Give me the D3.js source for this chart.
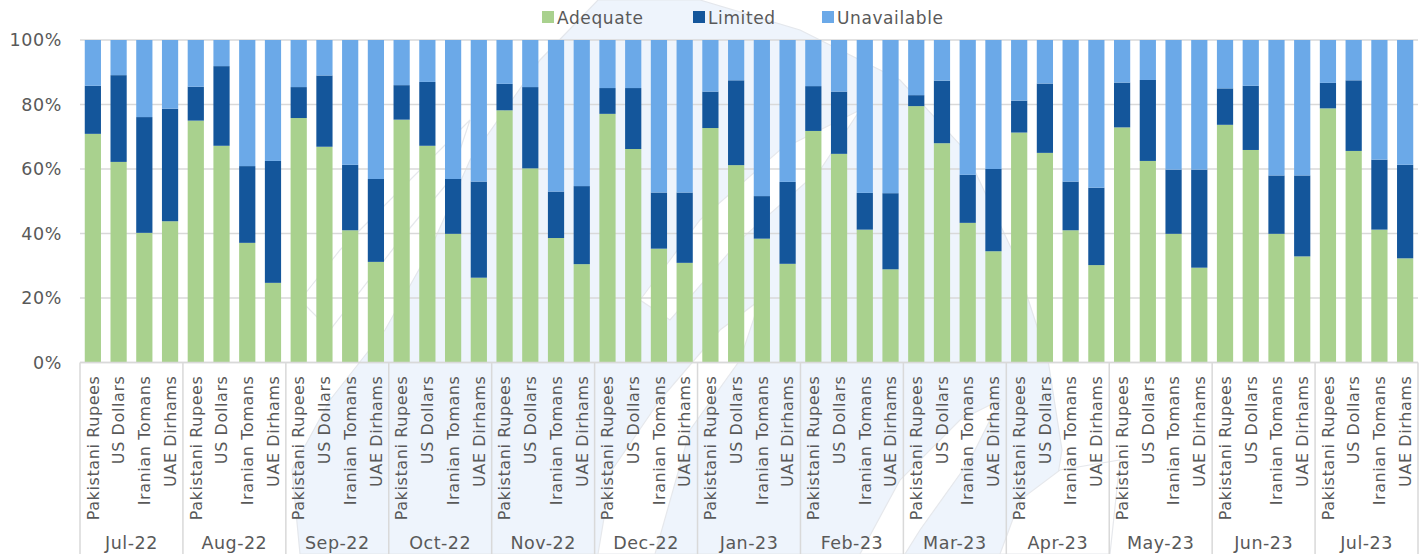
<!DOCTYPE html>
<html>
<head>
<meta charset="utf-8">
<script src="https://cdn.jsdelivr.net/npm/d3@7"></script>
<style>
  html, body { margin: 0; padding: 0; background: #fff; }
  svg { display: block; }
  text { font-family: "DejaVu Sans", sans-serif; fill: #595959; }
</style>
</head>
<body>
<svg id="chart" width="1428" height="554"></svg>
<script>
// Months on the outer axis, currencies on the inner axis
const months = ["Jul-22", "Aug-22", "Sep-22", "Oct-22", "Nov-22", "Dec-22", "Jan-23",
                "Feb-23", "Mar-23", "Apr-23", "May-23", "Jun-23", "Jul-23"];
const currencies = ["Pakistani Rupees", "US Dollars", "Iranian Tomans", "UAE Dirhams"];

// Share of responses (%) per month x currency, in the order above
const adequate = [
  70.9, 62.2, 40.2, 43.8,  75.0, 67.2, 37.1, 24.7,  75.8, 66.9, 41.0, 31.2,
  75.3, 67.2, 39.9, 26.3,  78.2, 60.2, 38.6, 30.5,  77.1, 66.2, 35.3, 30.9,
  72.7, 61.2, 38.4, 30.6,  71.8, 64.7, 41.2, 28.9,  79.5, 68.0, 43.3, 34.5,
  71.3, 65.0, 41.0, 30.2,  72.9, 62.5, 39.9, 29.4,  73.7, 65.9, 39.9, 32.9,
  78.8, 65.6, 41.2, 32.3
];
const limited = [
  14.9, 26.9, 35.9, 34.9,  10.5, 24.7, 23.8, 37.8,   9.6, 22.1, 20.3, 25.7,
  10.7, 19.8, 17.0, 29.8,   8.2, 25.2, 14.4, 24.2,   8.0, 18.9, 17.4, 21.8,
  11.3, 26.3, 13.2, 25.4,  13.9, 19.3, 11.4, 23.6,   3.4, 19.4, 14.9, 25.5,
   9.9, 21.5, 15.1, 24.0,  13.9, 25.1, 19.9, 30.4,  11.3, 19.9, 18.1, 25.1,
   7.9, 21.9, 21.7, 29.0
];
const unavailable = [
  14.2, 10.9, 23.9, 21.3,  14.5,  8.1, 39.1, 37.5,  14.6, 11.0, 38.7, 43.1,
  14.0, 13.0, 43.1, 43.9,  13.6, 14.6, 47.0, 45.3,  14.9, 14.9, 47.3, 47.3,
  16.0, 12.5, 48.4, 44.0,  14.3, 16.0, 47.4, 47.5,  17.1, 12.6, 41.8, 40.0,
  18.8, 13.5, 43.9, 45.8,  13.2, 12.4, 40.2, 40.2,  15.0, 14.2, 42.0, 42.0,
  13.3, 12.5, 37.1, 38.7
];
const yTicks = [0, 20, 40, 60, 80, 100];

const seriesNames = ["Adequate", "Limited", "Unavailable"];
const seriesColors = ["#A9D18E", "#14569B", "#6BA9E8"];

// Build one row per bar
const rows = [];
months.forEach((m, mi) => {
  currencies.forEach((c, ci) => {
    const i = mi * currencies.length + ci;
    rows.push({ key: m + "|" + c, month: m, currency: c,
                Adequate: adequate[i], Limited: limited[i], Unavailable: unavailable[i] });
  });
});

const svg = d3.select("#chart");
const W = 1428, H = 554;
const plotLeft = 80, plotRight = 1418, plotTop = 40, plotBottom = 362.5;

const x = d3.scaleBand(rows.map(d => d.key), [plotLeft, plotRight])
  .paddingInner(0.37).paddingOuter(0.185);
const xMonth = d3.scaleBand(months, [plotLeft, plotRight]);
const y = d3.scaleLinear([0, 100], [plotBottom, plotTop]);
const color = d3.scaleOrdinal(seriesNames, seriesColors);

// Faint background logo
const wm = svg.append("g");
wm.append("path")
  .attr("fill", "#EEF4FC").attr("stroke", "#E4E7EC").attr("stroke-width", 1.2)
  .attr("d", "M300,554 L292,470 L330,400 L385,330 L430,250 L470,160 L540,60 L598,0 " +
             "L700,0 L800,30 L900,80 L965,150 L1012,250 L1048,360 L1062,450 L1045,554 Z");
// lighter streaks cutting through it
const streak = wm.append("g").attr("fill", "#FFFFFF").attr("stroke", "#E6E8EC").attr("stroke-width", 1.2);
streak.append("path").attr("d", "M598,554 L612,470 L660,400 L720,330 L760,300 L740,360 L690,430 L655,554 Z");
streak.append("path").attr("d", "M300,300 L340,250 L420,170 L470,120 L450,180 L400,240 L330,330 Z");
streak.append("path").attr("d", "M640,300 L700,220 L780,150 L860,110 L820,170 L740,240 L670,320 Z");
streak.append("path").attr("d", "M1000,554 L1020,500 L1060,470 L1120,460 L1110,554 Z");
streak.append("path").attr("d", "M860,554 L900,480 L960,420 L1000,400 L970,460 L920,530 L905,554 Z");

// Gridlines
svg.append("g")
  .selectAll("line")
  .data(yTicks)
  .join("line")
  .attr("x1", plotLeft).attr("x2", plotRight)
  .attr("y1", d => y(d)).attr("y2", d => y(d))
  .attr("stroke", "#D9D9D9").attr("stroke-width", 1.5);

// Y axis labels
const yAxis = svg.append("g")
  .attr("transform", `translate(${plotLeft},0)`)
  .call(d3.axisLeft(y).tickValues(yTicks).tickFormat(d => d + "%").tickSize(0).tickPadding(18));
yAxis.select(".domain").remove();
yAxis.selectAll("text")
  .attr("font-size", 17.5)
  .attr("letter-spacing", 0.6)
  .style("font-family", "DejaVu Sans, sans-serif")
  .attr("fill", "#595959");

// Stacked bars
const stack = d3.stack().keys(seriesNames)(rows);
svg.append("g")
  .selectAll("g")
  .data(stack)
  .join("g")
  .attr("fill", d => color(d.key))
  .selectAll("rect")
  .data(d => d)
  .join("rect")
  .attr("x", d => x(d.data.key))
  .attr("width", x.bandwidth())
  .attr("y", d => y(d[1]))
  .attr("height", d => y(d[0]) - y(d[1]));

// Category axis: separators between months
const sepX = months.map(m => xMonth(m)).concat([plotRight]);
svg.append("g")
  .selectAll("line")
  .data(sepX)
  .join("line")
  .attr("x1", d => d).attr("x2", d => d)
  .attr("y1", plotBottom).attr("y2", H)
  .attr("stroke", "#D9D9D9").attr("stroke-width", 1.5);
svg.append("line")
  .attr("x1", plotLeft).attr("x2", plotRight).attr("y1", plotBottom).attr("y2", plotBottom)
  .attr("stroke", "#D9D9D9").attr("stroke-width", 1.5);

// Inner labels (currencies), rotated
svg.append("g")
  .selectAll("text")
  .data(rows)
  .join("text")
  .attr("transform", d => `translate(${x(d.key) + x.bandwidth() / 2},${plotBottom + 13}) rotate(-90)`)
  .attr("text-anchor", "end")
  .attr("dy", "0.36em")
  .attr("font-size", 16)
  .attr("letter-spacing", 0.6)
  .text(d => d.currency);

// Outer labels (months)
svg.append("g")
  .selectAll("text")
  .data(months)
  .join("text")
  .attr("x", d => xMonth(d) + xMonth.bandwidth() / 2)
  .attr("y", 549)
  .attr("text-anchor", "middle")
  .attr("font-size", 17.5)
  .attr("letter-spacing", 0.5)
  .text(d => d);

// Legend
const legendX = [542, 693, 822];
const lg = svg.append("g")
  .selectAll("g")
  .data(seriesNames)
  .join("g")
  .attr("transform", (d, i) => `translate(${legendX[i]},11)`);
lg.append("rect").attr("width", 12).attr("height", 12).attr("fill", d => color(d));
lg.append("text").attr("x", 15).attr("y", 12.5).attr("font-size", 17).attr("letter-spacing", 0.6).text(d => d);
</script>
</body>
</html>
